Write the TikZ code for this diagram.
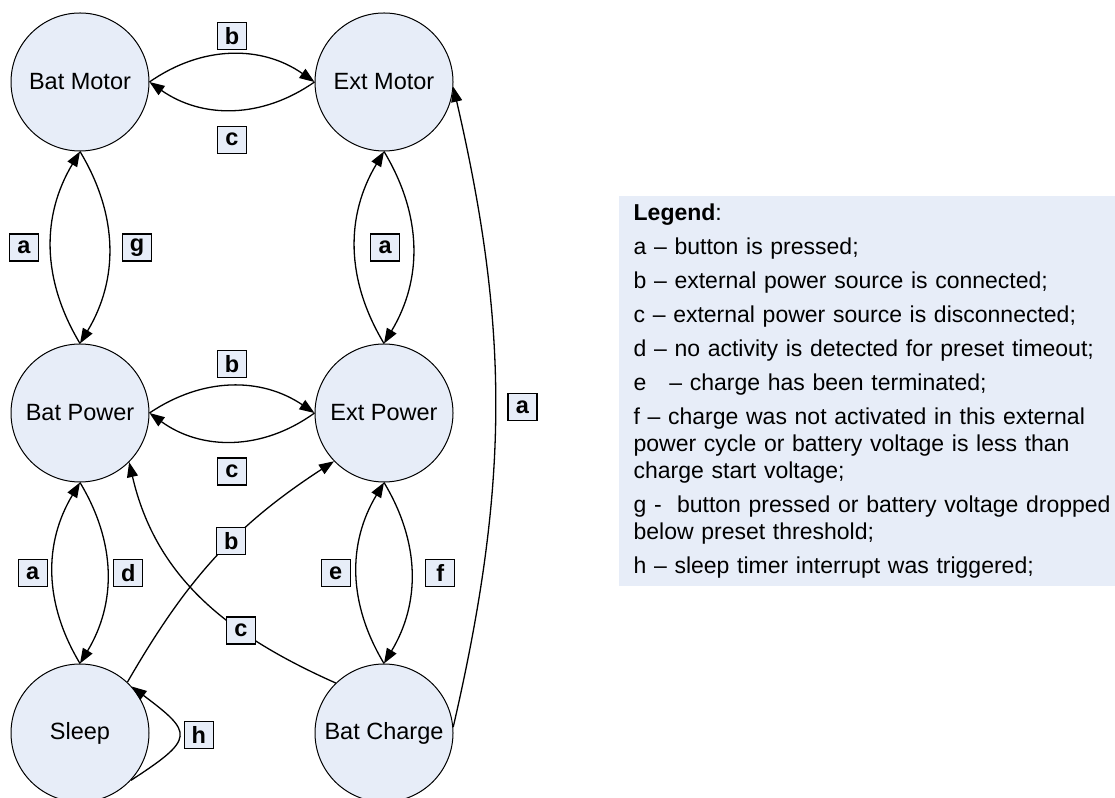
\documentclass[tikz,border=0pt]{standalone}
\usepackage{fontspec}
\setmainfont{Liberation Sans}
\usetikzlibrary{arrows.meta}
\definecolor{nodefill}{RGB}{231,237,248}
\tikzset{
    state/.style={circle, draw, line width=1pt, fill=nodefill, minimum size=138pt, inner sep=0pt, font=\fontsize{23.5}{27}\selectfont},
    lbl/.style={draw, line width=1.2pt, fill=nodefill, minimum width=29pt, minimum height=27pt, inner sep=0pt, font=\bfseries\fontsize{23.5}{27}\selectfont},
    legendbox/.style={fill=nodefill, minimum height=390pt, text width=540pt, inner xsep=15pt, inner ysep=0pt, align=left, font=\fontsize{23}{27}\selectfont},
}
\begin{document}
\begin{tikzpicture}[x=1pt, y=1pt, line width=1.3pt, >={Triangle[length=15pt,width=11pt]}]
        \useasboundingbox (0, 0) rectangle (1115, 797);

        \node[state] (bm) at (80, 715) {Bat Motor};
        \node[state] (em) at (384, 715) {Ext Motor};
        \node[state] (bp) at (80, 384) {Bat Power};
        \node[state] (ep) at (384, 384) {Ext Power};
        \node[state] (sl) at (80, 64) {Sleep};
        \node[state] (bc) at (384, 64) {Bat Charge};

        \draw[->] (bm.east) to[bend left=35] node[lbl, above=4pt] {b} (em.west);
        \draw[->] (em.west) to[bend left=35] node[lbl, below=16pt] {c} (bm.east);

        \draw[->] (bp.north) to[bend left=31] node[lbl, left=12pt] {a} (bm.south);
        \draw[->] (bm.south) to[bend left=31] node[lbl, right=13pt] {g} (bp.north);

        \draw[->] (ep.north) to[bend left=31] node[lbl, right=15pt] {a} (em.south);
        \draw[->] (em.south) to[bend left=31] (ep.north);

        \draw[->] (bp.east) to[bend left=34] node[lbl, above=8pt] {b} (ep.west);
        \draw[->] (ep.west) to[bend left=36] node[lbl, below=16pt] {c} (bp.east);

        \draw[->] (sl.north) to[bend left=31] node[lbl, left=5pt] {a} (bp.south);
        \draw[->] (bp.south) to[bend left=31] node[lbl, right=6pt] {d} (sl.north);

        \draw[->] (bc.north) to[bend left=31] node[lbl, left=6pt] {e} (ep.south);
        \draw[->] (ep.south) to[bend left=31] node[lbl, right=14pt] {f} (bc.north);

        \draw[->] (sl.47) to[out=60, in=213] node[lbl, pos=0.58] {b} (ep.224);
        \draw[->] (bc.134) to[out=156, in=-77] node[lbl, pos=0.33] {c} (bp.-45);
        \draw[->] (bc.5) to[out=77, in=-77] node[lbl, right=12pt] {a} (em.-4);
        \draw[->] (sl.-43) to[out=33, in=-37, looseness=2.1] node[lbl, right=5pt] {h} (sl.42);

        \node[legendbox, anchor=north west] (legend) at (618, 602) {%
            \textbf{Legend}:\\[7pt]
            a – button is pressed;\\[7pt]
            b – external power source is connected;\\[7pt]
            c – external power source is disconnected;\\[7pt]
            d – no activity is detected for preset timeout;\\[7pt]
            e\ \ \ – charge has been terminated;\\[7pt]
            f\ – charge was not activated in this external\\
            power cycle or battery voltage is less than\\
            charge start voltage;\\[7pt]
            g -\ \ button pressed or battery voltage dropped\\
            below preset threshold;\\[7pt]
            h – sleep timer interrupt was triggered;};
    \end{tikzpicture}
\end{document}
